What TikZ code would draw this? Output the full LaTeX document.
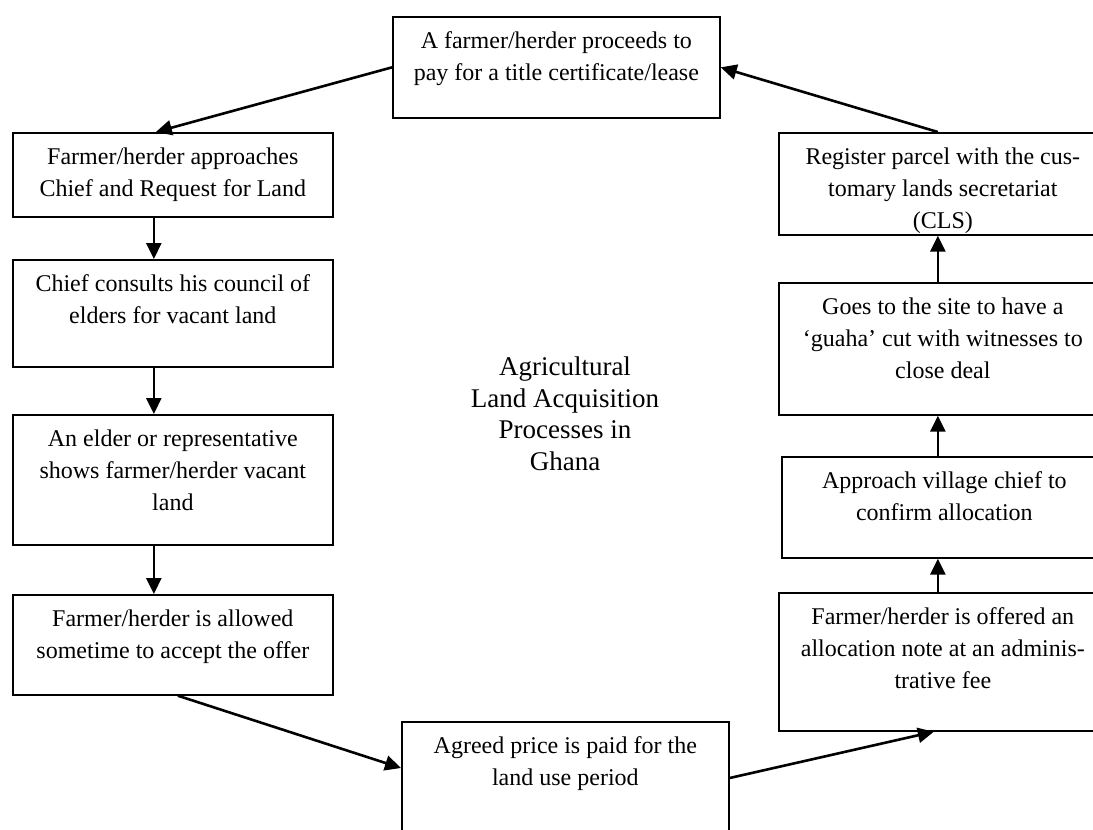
\documentclass[tikz,border=0pt]{standalone}
\usepackage{fontspec}
\setmainfont{Liberation Serif}
\usetikzlibrary{arrows.meta,calc}

% box text: fixed-size parbox, first baseline 16pt below the top edge
\newcommand{\steptext}[3]{\parbox[c][#1][t]{#2}{\centering\fontsize{12pt}{15.87pt}\selectfont\rule{0pt}{16pt}#3}}

\begin{document}
\begin{tikzpicture}[x=0.5pt,y=-0.5pt,
  stepbox/.style={draw, line width=0.85pt, inner sep=0pt, anchor=north west},
  flow/.style={line width=1.3pt, -{Triangle[length=8pt,width=7.5pt]}}]
\fill[white] (0,0) rectangle (1093,830);
\clip (0,0) rectangle (1093,830);

% top
\node[stepbox] (T) at (392,16) {\steptext{50.5pt}{163.5pt}{A farmer/herder proceeds to\\pay for a title certificate/lease}};

% left column
\node[stepbox] (A1) at (12,132) {\steptext{42pt}{160pt}{Farmer/herder approaches\\Chief and Request for Land}};
\node[stepbox] (C) at (12,259) {\steptext{53.5pt}{160pt}{Chief consults his council of\\elders for vacant land}};
\node[stepbox] (E) at (12,414) {\steptext{65pt}{160pt}{An elder or representative\\shows farmer/herder vacant\\land}};
\node[stepbox] (F) at (12,594) {\steptext{50pt}{160pt}{Farmer/herder is allowed\\sometime to accept the offer}};

% bottom
\node[stepbox] (P) at (401,721) {\steptext{74.5pt}{163.5pt}{Agreed price is paid for the\\land use period}};

% right column
\node[stepbox] (O) at (778,592) {\steptext{69pt}{164pt}{Farmer/herder is offered an\\allocation note at an adminis-\\trative fee}};
\node[stepbox] (V) at (781,456) {\steptext{50.5pt}{162.5pt}{Approach village chief to\\confirm allocation}};
\node[stepbox] (G) at (778,282) {\steptext{66pt}{164pt}{Goes to the site to have a\\‘guaha’ cut with witnesses to\\close deal}};
\node[stepbox] (R) at (778,132) {\steptext{51pt}{164pt}{Register parcel with the cus-\\tomary lands secretariat\\(CLS)}};

% centre title, set a little larger than the boxes
\node[inner sep=0pt, anchor=north] (title) at (565,343)
  {\parbox[c][70pt][t]{130pt}{\centering\fontsize{13.5pt}{15.87pt}\selectfont\rule{0pt}{16pt}Agricultural\\Land Acquisition\\Processes in\\Ghana}};

% connectors
\draw[flow] (T.west) -- ($(A1.north)+(-17,0)$);
\draw[flow] ($(A1.south)+(-19,0)$) coordinate (a1) -- (a1 |- C.north);
\draw[flow] ($(C.south)+(-19,0)$) coordinate (c1) -- (c1 |- E.north);
\draw[flow] ($(E.south)+(-19,0)$) coordinate (e1) -- (e1 |- F.north);
\draw[flow] ($(F.south)+(5,0)$) -- ($(P.north west)+(0,47)$);
\draw[flow] ($(P.north east)+(0,57)$) -- ($(O.south)+(-9,0)$);
\draw[flow] ($(O.north)+(-5,0)$) coordinate (o1) -- (o1 |- V.south);
\draw[flow] ($(V.north)+(-6.5,0)$) coordinate (v1) -- (v1 |- G.south);
\draw[flow] ($(G.north)+(-5,0)$) coordinate (g1) -- (g1 |- R.south);
\draw[flow] ($(R.north)+(-5,0)$) -- (T.east);
\end{tikzpicture}
\end{document}
